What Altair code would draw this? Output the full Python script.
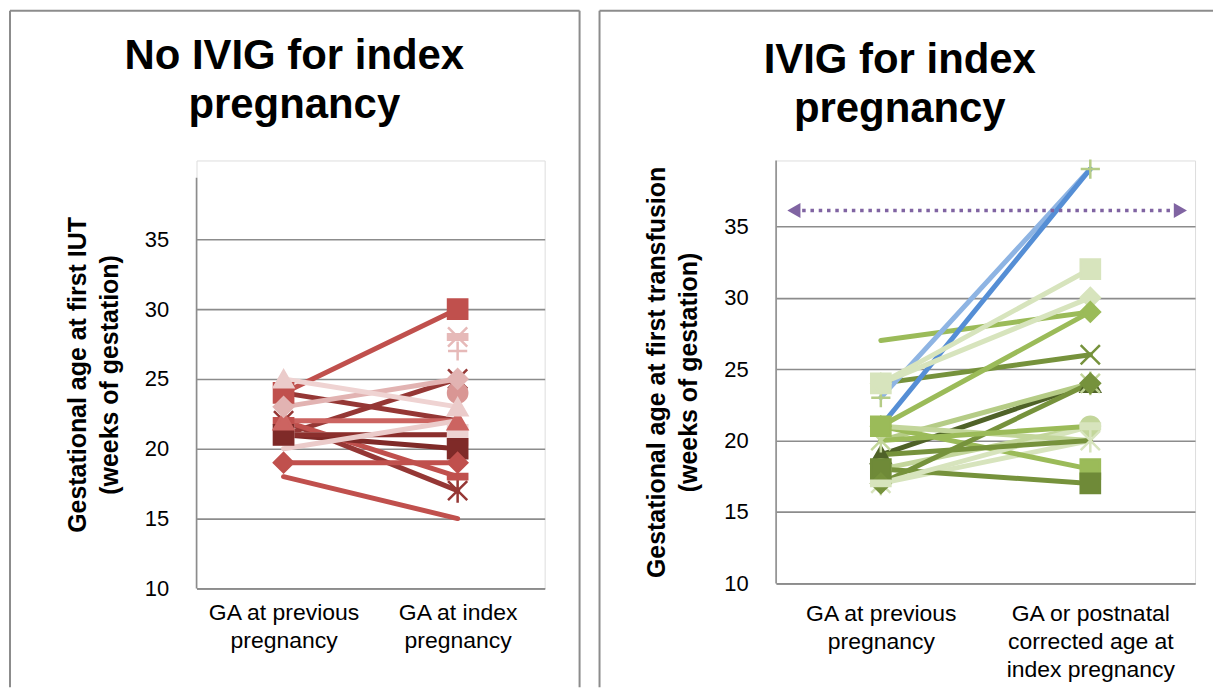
import json
import altair as alt
import pandas as pd

FONT = "Liberation Sans"
GRID = "#8c8c8c"

# ---------------- shared categories / text ----------------
STAGE_POS = [1, 3]            # x position of the two categories on a 0..4 axis
X_DOMAIN = [0, 4]
Y_TICKS = [10, 15, 20, 25, 30, 35]

LEFT_TITLE = ["No IVIG for index", "pregnancy"]
RIGHT_TITLE = ["IVIG for index", "pregnancy"]
LEFT_YTITLE = ["Gestational age at first IUT", "(weeks of gestation)"]
RIGHT_YTITLE = ["Gestational age at first transfusion", "(weeks of gestation)"]
LEFT_XLABELS = [["GA at previous", "pregnancy"], ["GA at index", "pregnancy"]]
RIGHT_XLABELS = [["GA at previous", "pregnancy"],
                 ["GA or postnatal", "corrected age at", "index pregnancy"]]

# marker shapes (Excel-like)
SHAPES = {
    "x": "M-1,-1L1,1M-1,1L1,-1",
    "plus": "M-1,0L1,0M0,-1L0,1",
    "star": "M-1,-1L1,1M-1,1L1,-1M0,-1.25L0,1.25",
    "dash": "M-1,-0.28L1,-0.28L1,0.28L-1,0.28Z",
}

# ---------------- left panel (No IVIG) ----------------
left_prev = [21, 24, 22, 22, 21, 21, 21, 22, 20, 19, 18, None, None, None, None, 24, 23, 25]
left_index = [25, 22, 17, 18, 21, 20, 21, 22, 22, 19, 15, 28, 27, 28, 24, 30, 25, 23]
left_line_colors = ["#953735", "#953735", "#953735", "#C0504D", "#F2DCDB", "#7F2A28",
                    "#8B2F2D", "#CC6461", "#EBCBCA", "#C0504D", "#C0504D", "#E6B9B8",
                    "#E6B9B8", "#E6B9B8", "#D99694", "#C0504D", "#E2B3B2", "#EFD3D2"]
left_marker_colors = ["#953735", "#953735", "#953735", "#C0504D", "#EDD3D2", "#7F2A28",
                      "#8B2F2D", "#CC6461", "#EBCBCA", "#C0504D", "#C0504D", "#E6B9B8",
                      "#E6B9B8", "#E6B9B8", "#D99694", "#C0504D", "#E2B3B2", "#EBCBCA"]
left_shapes = ["x", "none", "star", "dash", "square", "square", "none", "triangle-up",
               "none", "diamond", "none", "x", "plus", "dash", "circle", "square",
               "diamond", "triangle-up"]

# ---------------- right panel (IVIG) ----------------
right_prev = [24, 27, 23, 21, 24, 24, 21, 19, 20, 18, 17, 21, 18, 17, 17, 21, 20, 19]
right_index = [26, 29, 39, 39, 32, 30, 29, 24, 24, 21, 20, 18, 17, 24, 21, 20, 21, 20]
right_line_colors = ["#76923C", "#9BBB59", "#8EB4E3", "#558ED5", "#D7E4BD", "#D7E4BD",
                     "#9BBB59", "#4F6228", "#B5CC86", "#C3D69B", "#D7E4BD", "#9BBB59",
                     "#76923C", "#76923C", "#D7E4BD", "#C3D69B", "#9BBB59", "#76923C"]
right_marker_colors = ["#76923C", "#9BBB59", "#B5CC86", "#558ED5", "#D7E4BD", "#D7E4BD",
                       "#9BBB59", "#4F6228", "#C3D69B", "#C3D69B", "#D7E4BD", "#9BBB59",
                       "#6F8A38", "#76923C", "#D7E4BD", "#C3D69B", "#9BBB59", "#76923C"]
right_shapes = ["x", "none", "plus", "none", "square", "diamond", "diamond", "triangle-up",
                "star", "circle", "star", "square", "square", "diamond", "dash", "none",
                "none", "none"]

# purple dotted double arrow (weeks ~36)
ARROW_Y = 36.1
ARROW_X = [0.17, 3.86]
ARROW_COLOR = "#8064A2"

# y-axis line extent (top of the drawn axis line)
LEFT_AXIS_TOP = 39.4
RIGHT_AXIS_TOP = 39.6


def build_df(prev, idx, lcols, mcols, shapes):
    rows = []
    for i, (a, b, lc, mc, sh) in enumerate(zip(prev, idx, lcols, mcols, shapes)):
        both = a is not None and b is not None
        for pos, v in zip(STAGE_POS, (a, b)):
            if v is None:
                continue
            rows.append(dict(series=i, x=pos, value=v, lcolor=lc, mcolor=mc,
                             shape=SHAPES.get(sh, sh), marker=sh != "none",
                             line=both))
    return pd.DataFrame(rows)


def label_expr(labels):
    return "datum.value == %d ? %s : %s" % (STAGE_POS[0], json.dumps(labels[0]),
                                            json.dumps(labels[1]))


def make_panel(df, ydomain, axis_top, ytitle, xlabels, lab_pad, width, height,
               title, title_xy, border, arrow=False):
    xenc = alt.X("x:Q", scale=alt.Scale(domain=X_DOMAIN, nice=False, zero=False),
                 axis=alt.Axis(values=STAGE_POS, labelExpr=label_expr(xlabels),
                               title=None, grid=False, ticks=False, domain=True,
                               domainColor=GRID, domainWidth=1.6, labelFont=FONT,
                               labelFontSize=23, labelColor="black",
                               labelLineHeight=28, labelPadding=lab_pad,
                               labelOverlap=False))
    yenc = alt.Y("value:Q", scale=alt.Scale(domain=ydomain, nice=False, zero=False),
                 axis=alt.Axis(values=Y_TICKS, title=ytitle, grid=True,
                               gridColor=GRID, gridWidth=1.6, domain=False,
                               ticks=False, labelFont=FONT,
                               labelFontSize=22, labelColor="black", labelPadding=28,
                               titleFont=FONT, titleFontSize=25, titleFontWeight="bold",
                               titleColor="black", titlePadding=22,
                               titleLineHeight=32))
    base = alt.Chart(df)
    lines = base.transform_filter("datum.line").mark_line(
        strokeWidth=5, strokeCap="round", strokeJoin="round").encode(
        x=xenc, y=yenc, detail="series:N", color=alt.Color("lcolor:N", scale=None))
    points = base.transform_filter("datum.marker").mark_point(
        size=370, strokeWidth=2.5, opacity=1, fillOpacity=1).encode(
        x=xenc, y=yenc, shape=alt.Shape("shape:N", scale=None),
        fill=alt.Fill("mcolor:N", scale=None), stroke=alt.Stroke("mcolor:N", scale=None))

    axis_df = pd.DataFrame({"x": [X_DOMAIN[0]], "value": [ydomain[0]],
                            "value2": [axis_top]})
    y_axis_line = alt.Chart(axis_df).mark_rule(color=GRID, strokeWidth=1.6).encode(
        x=xenc, y=yenc, y2="value2:Q")

    one = pd.DataFrame({"k": [0]})
    bx0, bx1, by0, by1 = border
    b_left = alt.Chart(one).mark_rule(color=GRID, strokeWidth=2).encode(
        x=alt.value(bx0), y=alt.value(by0), y2=alt.value(by1))
    b_top = alt.Chart(one).mark_rule(color=GRID, strokeWidth=2).encode(
        x=alt.value(bx0), x2=alt.value(bx1), y=alt.value(by0))
    layers = [b_left, b_top]
    if not arrow:
        layers.append(alt.Chart(one).mark_rule(color=GRID, strokeWidth=2).encode(
            x=alt.value(bx1), y=alt.value(by0), y2=alt.value(by1)))
    ttl = alt.Chart(one).mark_text(text=title, font=FONT, fontSize=42,
                                    fontWeight="bold", lineHeight=49, align="center",
                                    baseline="alphabetic", color="black").encode(
        x=alt.value(title_xy[0]), y=alt.value(title_xy[1]))
    layers += [ttl, y_axis_line, lines, points]
    if arrow:
        adf = pd.DataFrame({"x": ARROW_X, "value": [ARROW_Y, ARROW_Y],
                            "shape": ["triangle-left", "triangle-right"]})
        a_line = alt.Chart(adf).mark_line(color=ARROW_COLOR, strokeWidth=3.5,
                                          strokeDash=[3.5, 4.8]).encode(x=xenc, y=yenc)
        a_head = alt.Chart(adf).mark_point(filled=True, size=230, color=ARROW_COLOR,
                                           opacity=1).encode(
            x=xenc, y=yenc, shape=alt.Shape("shape:N", scale=None))
        layers += [a_line, a_head]
    return alt.layer(*layers).properties(width=width, height=height)


left_df = build_df(left_prev, left_index, left_line_colors, left_marker_colors, left_shapes)
right_df = build_df(right_prev, right_index, right_line_colors, right_marker_colors, right_shapes)

# both plot areas share the same top (origin y); left plot is 429 px tall at 14 px/week
left = make_panel(left_df, [10, 10 + 429 / 14], LEFT_AXIS_TOP, LEFT_YTITLE, LEFT_XLABELS,
                  13, 349, 429, LEFT_TITLE, (98, -92), (-187, 384, -150, 528))
right = make_panel(right_df, [10, RIGHT_AXIS_TOP], RIGHT_AXIS_TOP, RIGHT_YTITLE,
                   RIGHT_XLABELS, 19, 420, 424, RIGHT_TITLE, (124, -88),
                   (-177, 438, -150, 528), arrow=True)

chart = alt.hconcat(left, right, spacing=16).properties(padding=0).configure_view(
    stroke=None).configure(font=FONT)

chart.save("out.html", embed_options={"renderer": "svg", "actions": False})
